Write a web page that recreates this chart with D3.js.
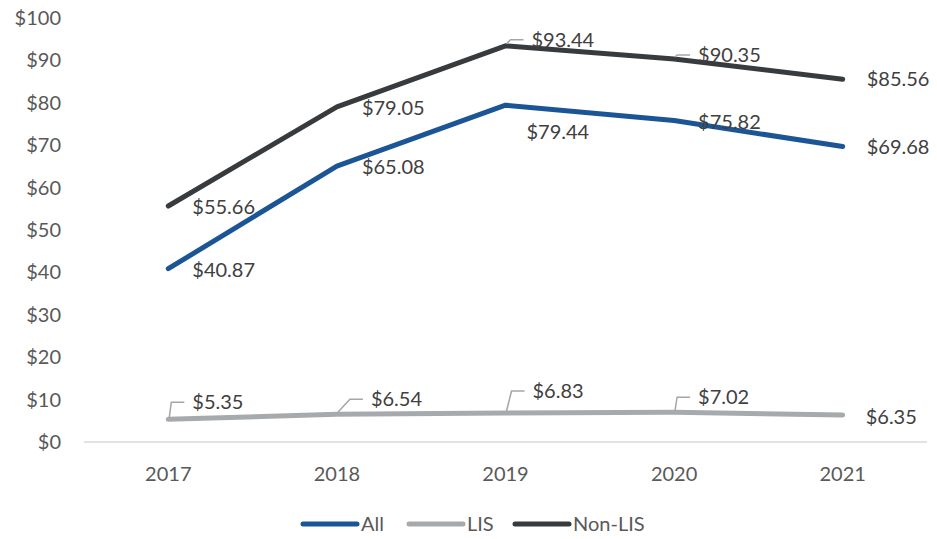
<!DOCTYPE html>
<html>
<head>
<meta charset="utf-8">
<script src="https://cdn.jsdelivr.net/npm/d3@7"></script>
<style>
  body { margin: 0; background: #fff; }
  svg text { font-family: Lato, "Open Sans", sans-serif; }
</style>
</head>
<body>
<div id="chart-container"></div>
<script>
// data
const years = ["2017", "2018", "2019", "2020", "2021"];
const allValues = [40.87, 65.08, 79.44, 75.82, 69.68];
const lisValues = [5.35, 6.54, 6.83, 7.02, 6.35];
const nonLisValues = [55.66, 79.05, 93.44, 90.35, 85.56];
const yTicks = [0, 10, 20, 30, 40, 50, 60, 70, 80, 90, 100];

// label placement (dx, dy from the point, leader line or not)
const allLabelPos = [[24, 1, false], [25, 1, false], [21, 27, false], [24, 1, false], [24, 0, false]];
const lisLabelPos = [[24, -17, true], [34, -15, true], [27, -22, true], [24, -15, true], [23, 2, false]];
const nonLisLabelPos = [[24, 1, false], [25, 1, false], [26, -6, true], [24, -4, true], [24, 0, false]];

const width = 937, height = 539;

const series = [
  { name: "All", values: allValues, color: "#1B5596", labels: allLabelPos },
  { name: "LIS", values: lisValues, color: "#A7AAAD", labels: lisLabelPos },
  { name: "Non-LIS", values: nonLisValues, color: "#383B3E", labels: nonLisLabelPos }
];

const svg = d3.select("#chart-container")
  .append("svg")
  .attr("width", width)
  .attr("height", height);

const x = d3.scalePoint()
  .domain(years)
  .range([84, 927])
  .padding(0.5);

const y = d3.scaleLinear()
  .domain([0, 100])
  .range([442, 18]);

// y labels
svg.append("g")
  .selectAll("text")
  .data(yTicks)
  .enter()
  .append("text")
  .attr("x", 61)
  .attr("y", d => y(d))
  .attr("dy", "0.35em")
  .attr("text-anchor", "end")
  .style("font-size", "20px")
  .style("fill", "#595959")
  .text(d => "$" + d);

// baseline
svg.append("line")
  .attr("x1", 84)
  .attr("x2", 927)
  .attr("y1", y(0))
  .attr("y2", y(0))
  .attr("stroke", "#D9D9D9")
  .attr("stroke-width", 1.5);

// x labels
svg.append("g")
  .selectAll("text")
  .data(years)
  .enter()
  .append("text")
  .attr("x", d => x(d))
  .attr("y", 474)
  .attr("dy", "0.35em")
  .attr("text-anchor", "middle")
  .style("font-size", "20px")
  .style("fill", "#595959")
  .text(d => d);

const line = d3.line()
  .x((d, i) => x(years[i]))
  .y(d => y(d));

// lines
series.forEach(s => {
  svg.append("path")
    .datum(s.values)
    .attr("d", line)
    .attr("fill", "none")
    .attr("stroke", s.color)
    .attr("stroke-width", 5)
    .attr("stroke-linecap", "round")
    .attr("stroke-linejoin", "round");
});

// data labels
series.forEach(s => {
  s.values.forEach((v, i) => {
    const px = x(years[i]), py = y(v);
    const [dx, dy, leader] = s.labels[i];
    if (leader) {
      svg.append("polyline")
        .attr("points", [[px + 1, py - 2], [px + dx - 21, py + dy], [px + dx - 8, py + dy]].join(" "))
        .attr("fill", "none")
        .attr("stroke", "#A6A6A6")
        .attr("stroke-width", 1.5);
    }
    svg.append("text")
      .attr("x", px + dx)
      .attr("y", py + dy)
      .attr("dy", "0.35em")
      .style("font-size", "20px")
      .style("fill", "#404040")
      .text("$" + v.toFixed(2));
  });
});

// legend
const legendX = [303, 409, 515];
const legend = svg.selectAll(".legend")
  .data(series)
  .enter()
  .append("g")
  .attr("class", "legend")
  .attr("transform", (d, i) => `translate(${legendX[i]},524)`);

legend.append("line")
  .attr("x1", 0)
  .attr("x2", 54)
  .attr("stroke", d => d.color)
  .attr("stroke-width", 5)
  .attr("stroke-linecap", "round");

legend.append("text")
  .attr("x", 58)
  .attr("dy", "0.35em")
  .style("font-size", "20px")
  .style("fill", "#595959")
  .text(d => d.name);
</script>
</body>
</html>
